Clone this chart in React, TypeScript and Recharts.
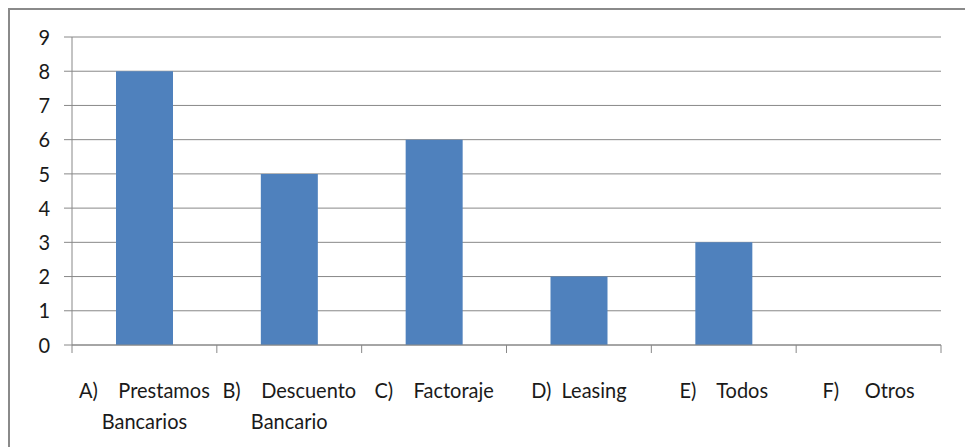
import * as React from 'react';
import { Bar, BarChart, CartesianGrid, XAxis, YAxis } from 'recharts';

// Category labels (line by line, as wrapped in the original)
const categoryLines: string[][] = [
    ['A)    Prestamos', 'Bancarios'],
    ['B)    Descuento', 'Bancario'],
    ['C)    Factoraje'],
    ['D)  Leasing'],
    ['E)    Todos'],
    ['F)     Otros'],
];
const categoryKeys = ['A', 'B', 'C', 'D', 'E', 'F'];
const seriesValues = [8, 5, 6, 2, 3, 0];
const yTicks = [0, 1, 2, 3, 4, 5, 6, 7, 8, 9];

const GRID = '#888888';
const BAR = '#4F81BD';
const FONT = 'Lato, "Open Sans", sans-serif';
const FONT_SIZE = 20;
const STRETCH = 1.1;

interface TickProps {
    x?: number;
    y?: number;
    index?: number;
    payload?: { value: string | number; offset?: number };
}

function XTick({ x = 0, y = 0, index = 0, payload }: TickProps) {
    const half = payload?.offset ?? 72.4;
    const lines = categoryLines[index] ?? [];
    return (
        <g>
            <line x1={x - half} x2={x - half} y1={y} y2={y + 8} stroke={GRID} />
            {index === categoryKeys.length - 1 && <line x1={x + half} x2={x + half} y1={y} y2={y + 8} stroke={GRID} />}
            <g transform={`translate(${x},${y}) scale(1,${STRETCH})`}>
                {lines.map((line, i) => (
                    <text
                        key={i}
                        x={0}
                        y={(45 + i * 31) / STRETCH}
                        dy="0.35em"
                        textAnchor="middle"
                        fontFamily={FONT}
                        fontSize={FONT_SIZE}
                        fill="#1a1a1a"
                        style={{ whiteSpace: 'pre' }}
                    >
                        {line}
                    </text>
                ))}
            </g>
        </g>
    );
}

function YTick({ x = 0, y = 0, payload }: TickProps) {
    return (
        <g transform={`translate(${x},${y}) scale(1,${STRETCH})`}>
            <text x={0} y={0} dy="0.35em" textAnchor="end" fontFamily={FONT} fontSize={FONT_SIZE} fill="#1a1a1a">
                {payload?.value}
            </text>
        </g>
    );
}

export default function App() {
    const chartData = React.useMemo(
        () => categoryKeys.map((key, i) => ({ category: key, value: seriesValues[i] })),
        [],
    );

    return (
        <div
            style={{
                position: 'absolute',
                left: 8,
                top: 8,
                width: 957,
                height: 439,
                borderTop: '2px solid #8a8a8a',
                borderLeft: '2px solid #8a8a8a',
                background: '#fff',
                boxSizing: 'border-box',
                overflow: 'hidden',
            }}
        >
            <BarChart width={955} height={437} data={chartData} margin={{ top: 27, right: 24, left: 0, bottom: 0 }}>
                <CartesianGrid horizontal vertical={false} stroke={GRID} />
                <XAxis
                    dataKey="category"
                    height={102}
                    interval={0}
                    tickSize={0}
                    tickMargin={0}
                    tickLine={false}
                    axisLine={{ stroke: GRID }}
                    tick={<XTick />}
                />
                <YAxis
                    width={62}
                    domain={[0, 9]}
                    ticks={yTicks}
                    interval={0}
                    tickSize={8}
                    tickMargin={14}
                    tickLine={{ stroke: GRID }}
                    axisLine={{ stroke: GRID }}
                    tick={<YTick />}
                />
                <Bar dataKey="value" fill={BAR} barSize={57} isAnimationActive={false} />
            </BarChart>
        </div>
    );
}
